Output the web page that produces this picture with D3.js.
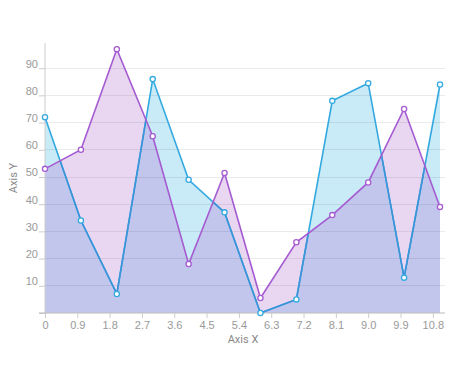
<!DOCTYPE html>
<html><head><meta charset="utf-8">
<script src="https://cdn.jsdelivr.net/npm/d3@7"></script>
<style>body{margin:0;background:#fff}svg{display:block;font-family:Roboto,sans-serif}</style>
</head><body><svg id="c" width="454" height="367"></svg>
<script>
const xValues = [0,1,2,3,4,5,6,7,8,9,10,11];
const seriesCyan = [72,34,7,86,49,37,0,5,78,84.5,13,84];
const seriesPurple = [53,60,97,65,18,51.5,5.5,26,36,48,75,39];
const xTickValues = [0,0.9,1.8,2.7,3.6,4.5,5.4,6.3,7.2,8.1,9.0,9.9,10.8];
const xTickLabels = ["0","0.9","1.8","2.7","3.6","4.5","5.4","6.3","7.2","8.1","9.0","9.9","10.8"];
const yTickValues = [0,10,20,30,40,50,60,70,80,90];
const yTickLabels = ["","10","20","30","40","50","60","70","80","90"];

const svg = d3.select("#c");
const x = d3.scaleLinear().domain([0,11]).range([45,440]);
const y = d3.scaleLinear().domain([0,100]).range([313,41]);

const cyanPts = xValues.map((d,i)=>[d,seriesCyan[i]]);
const purplePts = xValues.map((d,i)=>[d,seriesPurple[i]]);
const area = d3.area().x(d=>x(d[0])).y0(y(0)).y1(d=>y(d[1]));
const line = d3.line().x(d=>x(d[0])).y(d=>y(d[1]));

const defs = svg.append("defs");
defs.append("clipPath").attr("id","clipP").append("path").attr("d", area(purplePts));

// fills
svg.append("path").attr("d", area(purplePts)).attr("fill","#e9d7f1");
svg.append("path").attr("d", area(cyanPts)).attr("fill","#c9eaf7");
svg.append("path").attr("d", area(cyanPts)).attr("fill","#c2c6ec").attr("clip-path","url(#clipP)");

// gridlines
svg.append("g").selectAll("line").data(yTickValues.filter(v=>v>0)).join("line")
  .attr("x1",45).attr("x2",445).attr("y1",d=>y(d)).attr("y2",d=>y(d))
  .attr("stroke","rgba(0,0,0,0.08)").attr("stroke-width",1).attr("shape-rendering","crispEdges");

// axes
const yAxis = d3.axisLeft(y).tickValues(yTickValues).tickSize(6).tickFormat((d,i)=>yTickLabels[i]);
const gy = svg.append("g").attr("transform","translate(45,0)").call(yAxis);
gy.select(".domain").attr("stroke","#ccc").attr("d","M0,43V313");
gy.selectAll(".tick line").attr("stroke","#ccc");
gy.selectAll(".tick text").attr("fill","#999").attr("font-size","11px").attr("x",-7).attr("dy","-0.1em");

const xAxis = d3.axisBottom(x).tickValues(xTickValues).tickSize(5).tickFormat((d,i)=>xTickLabels[i]);
const gx = svg.append("g").attr("transform","translate(0,313)").call(xAxis);
gx.select(".domain").attr("stroke","#bbb").attr("d","M39,0H445");
gx.selectAll(".tick line").attr("stroke","#ccc");
gx.selectAll(".tick text").attr("fill","#999").attr("font-size","11px").attr("y",8);

svg.append("text").attr("x",243).attr("y",343).attr("text-anchor","middle")
  .attr("fill","#888").attr("font-size","11px").text("Axis X");
svg.append("text").attr("transform","translate(17,178) rotate(-90)").attr("text-anchor","middle")
  .attr("fill","#888").attr("font-size","11px").text("Axis Y");

// lines
svg.append("path").attr("d", line(cyanPts)).attr("fill","none").attr("stroke","#34a9e0").attr("stroke-width",1.6);
svg.append("path").attr("d", line(cyanPts)).attr("fill","none").attr("stroke","#3d93d8").attr("stroke-width",1.6).attr("clip-path","url(#clipP)");
svg.append("path").attr("d", line(purplePts)).attr("fill","none").attr("stroke","#a55bd1").attr("stroke-width",1.6);

svg.append("g").selectAll("circle").data(cyanPts).join("circle")
  .attr("cx",d=>x(d[0])).attr("cy",d=>y(d[1])).attr("r",2.6)
  .attr("fill","#fff").attr("stroke","#34a9e0").attr("stroke-width",1.3);
svg.append("g").selectAll("circle").data(purplePts).join("circle")
  .attr("cx",d=>x(d[0])).attr("cy",d=>y(d[1])).attr("r",2.6)
  .attr("fill","#fff").attr("stroke","#a55bd1").attr("stroke-width",1.3);
</script></body></html>
